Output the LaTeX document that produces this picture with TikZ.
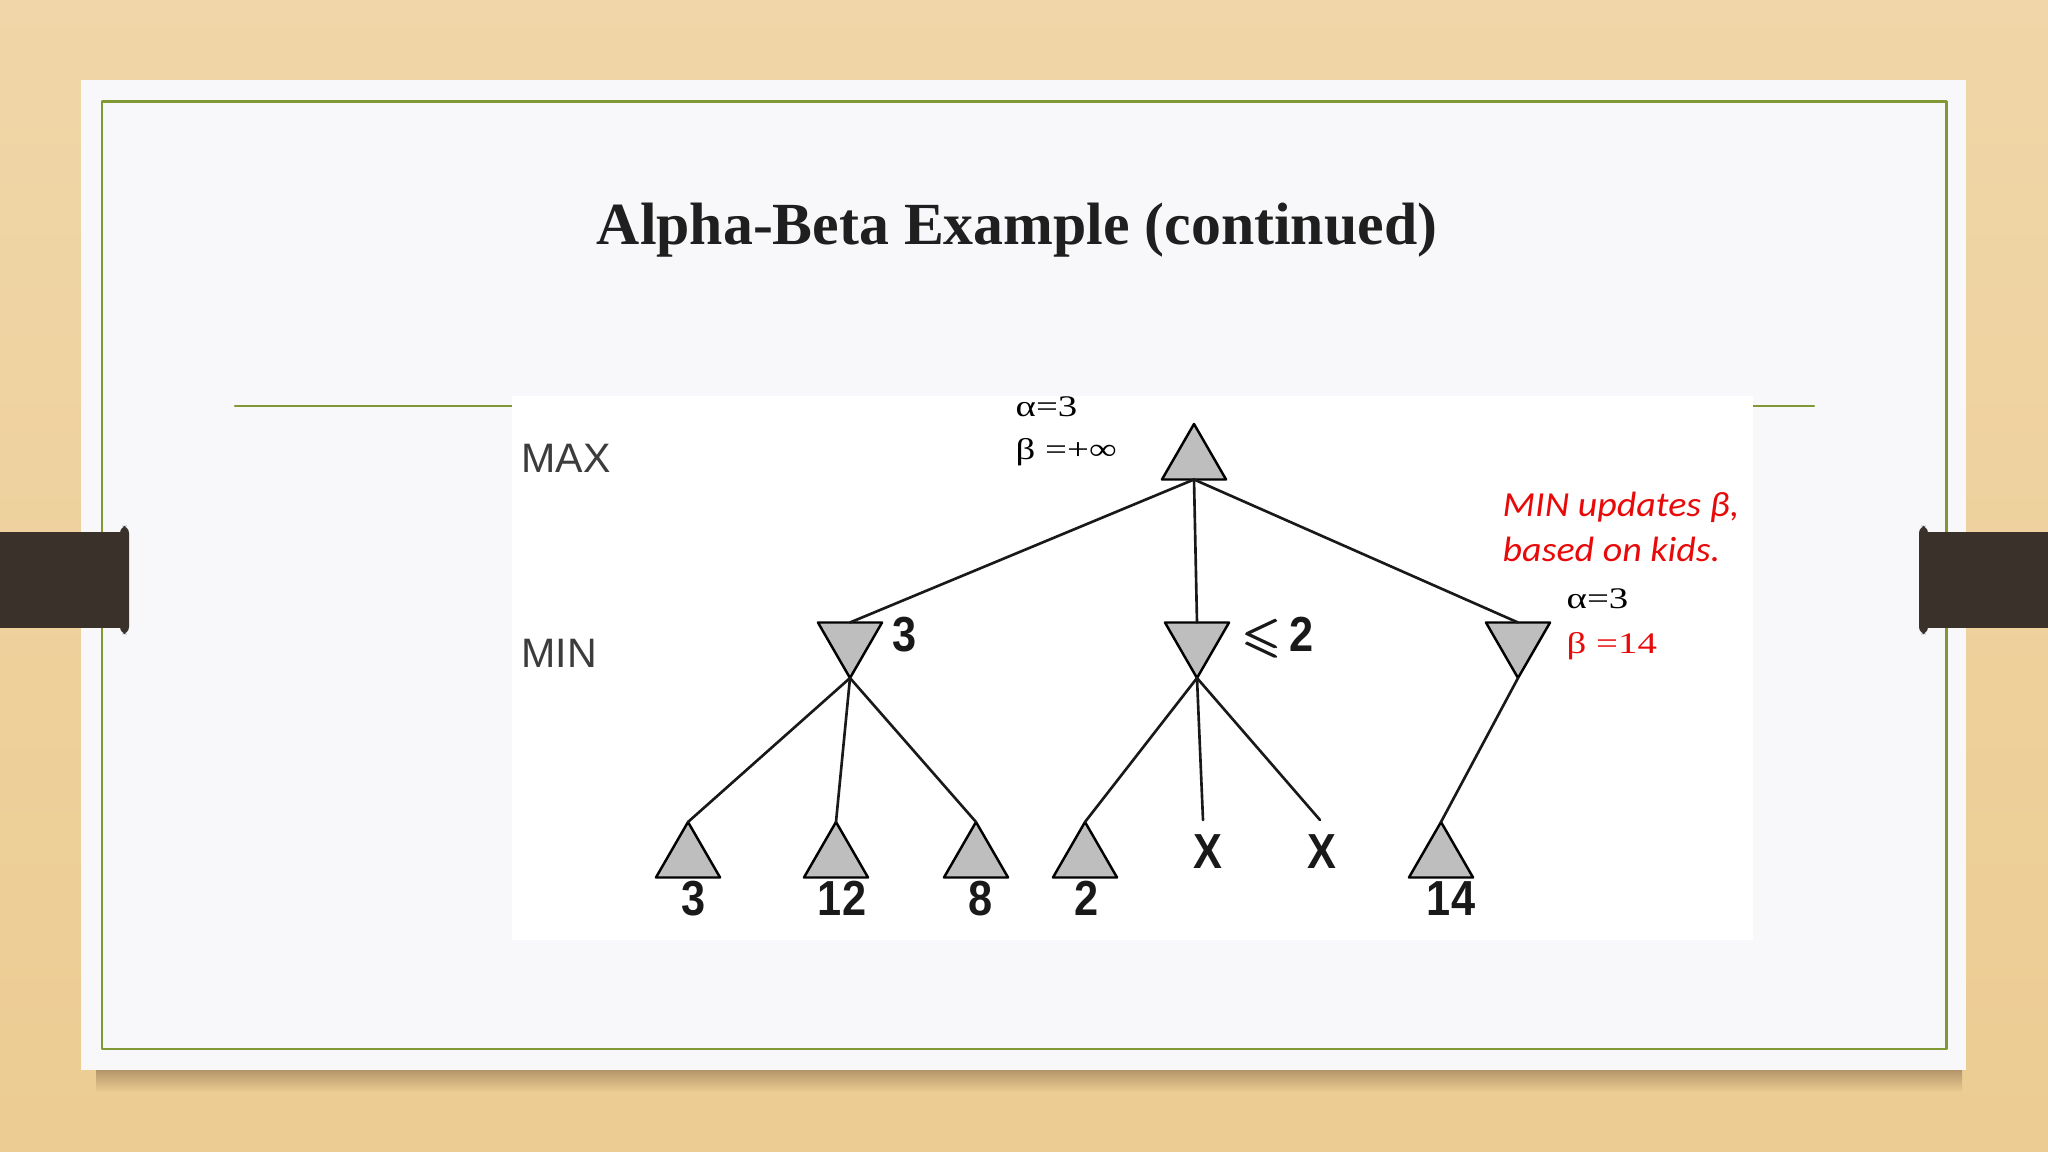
\documentclass[tikz,border=0pt]{standalone}
\usepackage{fontspec}
\usepackage{amsmath}
\usepackage{amssymb}
\usetikzlibrary{shapes.geometric}
\setmainfont{Liberation Serif}
\newfontfamily\greekfont[FakeStretch=1.3]{Liberation Serif}
\newfontfamily\levelfont{Liberation Sans}
\newfontfamily\numfont[FakeStretch=0.88]{Liberation Sans}
\newfontfamily\notefont[FakeStretch=1.08]{Carlito}
\definecolor{wood}{RGB}{236,204,146}
\definecolor{woodlight}{RGB}{240,214,168}
\definecolor{woodshadow}{RGB}{170,140,100}
\definecolor{cardwhite}{RGB}{248,248,250}
\definecolor{rulegreen}{RGB}{128,153,52}
\definecolor{clampbrown}{RGB}{58,49,43}
\definecolor{trigray}{RGB}{190,190,190}
\definecolor{notered}{RGB}{232,10,10}
\definecolor{levelgray}{RGB}{60,60,60}
\begin{document}
\begin{tikzpicture}[x=0.01cm, y=-0.01cm, line join=round, line cap=round,
  maxnode/.style={regular polygon, regular polygon sides=3, minimum size=0.74cm,
    inner sep=0pt, outer sep=0pt, draw=black, fill=trigray, line width=0.7pt},
  minnode/.style={maxnode, shape border rotate=180},
  branch/.style={line width=0.75pt, black!90},
  val/.style={inner sep=0pt, text=black!90, font=\numfont\bfseries\fontsize{14}{14}\selectfont},
  ab/.style={inner sep=0pt, anchor=base west, font=\greekfont\fontsize{8.5}{10}\selectfont}]
%%%%%%%%%%%%%%%%%%%%%%%%%%%%%%%%%
\useasboundingbox (0,0) rectangle (2048,1152);
\shade[top color=woodlight, bottom color=wood] (0,0) rectangle (2048,1152);
\shade[top color=woodshadow, bottom color=wood] (96,1066) rectangle (1962,1092);
\fill[cardwhite] (81,80) rectangle (1966,1070);
\draw[rulegreen, line width=0.85pt] (102,102) rectangle (1946,1049);
\draw[rulegreen, line width=0.7pt] (235,406) -- (1814,406);
\fill[white] (512,396) rectangle (1753,940);
\fill[clampbrown] (0,532) rectangle (126,628);
\fill[clampbrown, rounded corners=2] (120,526) rectangle (129,634);
\fill[clampbrown] (1925,532) rectangle (2048,628);
\fill[clampbrown, rounded corners=2] (1919,526) rectangle (1928,634);
%%%%%%%%%%%%%%%%%%%%%%%%%%%%%%%%%
\node[anchor=base, inner sep=0pt, text=black!88,
  font=\bfseries\fontsize{17}{20}\selectfont] (title) at (1017,245) {Alpha-Beta Example (continued)};
%%%%%%%%%%%%%%%%%%%%%%%%%%%%%%%%%
\node[maxnode] (root) at (1194,461) {};
\node[minnode] (mina) at (850,641) {};
\node[minnode] (minb) at (1197,641) {};
\node[minnode] (minc) at (1518,641) {};
\node[maxnode] (leafa) at (688,859) {};
\node[maxnode] (leafb) at (836,859) {};
\node[maxnode] (leafc) at (976,859) {};
\node[maxnode] (leafd) at (1085,859) {};
\node[maxnode] (leafe) at (1441,859) {};
\node[val] (xa) at (1208,852) {X};
\node[val] (xb) at (1322,852) {X};
\coordinate (cuta) at (1203,820);
\coordinate (cutb) at (1320,820);
%%%%%%%%%%%%%%%%%%%%%%%%%%%%%%%%%
\draw[branch] (root.side 2) -- (mina.side 2);
\draw[branch] (root.side 2) -- (minb.side 2);
\draw[branch] (root.side 2) -- (minc.side 2);
\draw[branch] (mina.corner 1) -- (leafa.corner 1);
\draw[branch] (mina.corner 1) -- (leafb.corner 1);
\draw[branch] (mina.corner 1) -- (leafc.corner 1);
\draw[branch] (minb.corner 1) -- (leafd.corner 1);
\draw[branch] (minb.corner 1) -- (cuta);
\draw[branch] (minb.corner 1) -- (cutb);
\draw[branch] (minc.corner 1) -- (leafe.corner 1);
%%%%%%%%%%%%%%%%%%%%%%%%%%%%%%%%%
\node[val, anchor=base] (va) at (694,915) {3};
\node[val, anchor=base] (vb) at (842,915) {12};
\node[val, anchor=base] (vc) at (981,915) {8};
\node[val, anchor=base] (vd) at (1087,915) {2};
\node[val, anchor=base] (ve) at (1451,915) {14};
\node[val, anchor=base] (vmina) at (905,652) {3};
\node[val, anchor=base west] (vminb) at (1243,652) {$\pmb{\leqslant}$\hspace{2pt}2};
%%%%%%%%%%%%%%%%%%%%%%%%%%%%%%%%%
\node[anchor=base west, inner sep=0pt, text=levelgray,
  font=\levelfont\fontsize{11.7}{12}\selectfont] (lmax) at (521,472) {MAX};
\node[anchor=base west, inner sep=0pt, text=levelgray,
  font=\levelfont\fontsize{11.7}{12}\selectfont] (lmin) at (521,667) {MIN};
%%%%%%%%%%%%%%%%%%%%%%%%%%%%%%%%%
\node[ab] (alroot) at (1015,417) {α=3};
\node[ab] (beroot) at (1015,460) {β =+∞};
\node[ab] (alminc) at (1566,608) {α=3};
\node[ab, text=notered] (beminc) at (1566,653) {β =14};
\node[anchor=base west, inner sep=0pt, align=left, text=notered,
  font=\notefont\itshape\fontsize{10}{12.6}\selectfont] (remark) at (1502,561)
  {MIN updates β,\\based on kids.};
%%%%%%%%%%%%%%%%%%%%%%%%%%%%%%%%%
\end{tikzpicture}
\end{document}
